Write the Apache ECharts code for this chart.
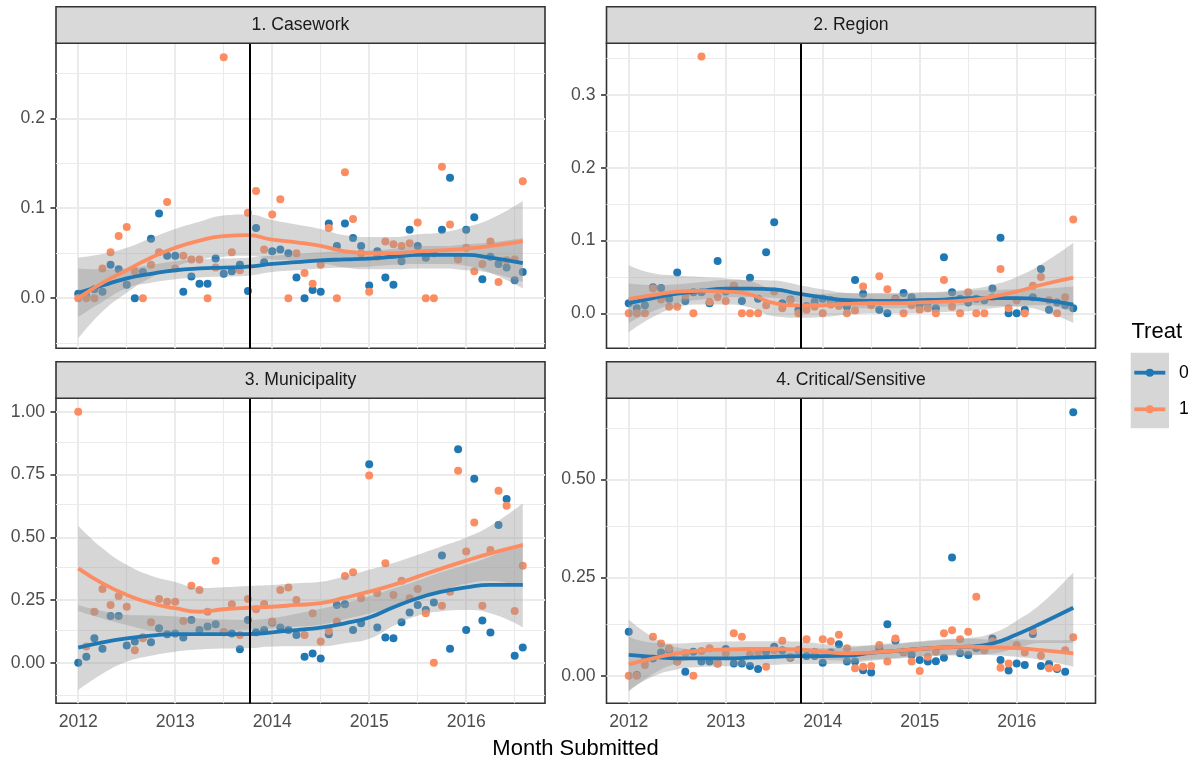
<!DOCTYPE html>
<html><head><meta charset="utf-8">
<script src="https://cdn.jsdelivr.net/npm/echarts@6/dist/echarts.min.js"></script>
<style>html,body{margin:0;padding:0;background:#fff}#c{width:1196px;height:763px}</style>
</head><body><div id="c"></div>
<script>
// ---------------- data ----------------
const months = ['2012-01','2012-02','2012-03','2012-04','2012-05','2012-06','2012-07','2012-08','2012-09','2012-10','2012-11','2012-12',
 '2013-01','2013-02','2013-03','2013-04','2013-05','2013-06','2013-07','2013-08','2013-09','2013-10','2013-11','2013-12',
 '2014-01','2014-02','2014-03','2014-04','2014-05','2014-06','2014-07','2014-08','2014-09','2014-10','2014-11','2014-12',
 '2015-01','2015-02','2015-03','2015-04','2015-05','2015-06','2015-07','2015-08','2015-09','2015-10','2015-11','2015-12',
 '2016-01','2016-02','2016-03','2016-04','2016-05','2016-06','2016-07','2016-08'];
const fitMonths = ['2012-01','2012-04','2012-07','2012-10','2013-01','2013-04','2013-07','2013-10','2014-01','2014-04',
 '2014-07','2014-10','2015-01','2015-04','2015-07','2015-10','2016-01','2016-04','2016-08'];
const panelTitles = ['1. Casework','2. Region','3. Municipality','4. Critical/Sensitive'];
const treatLevels = ['0','1'];
const interventionDate = 2013.77;

const xTicks = [2012,2013,2014,2015,2016];
const xLabels = ['2012','2013','2014','2015','2016'];
const xMinor = [2012.5,2013.5,2014.5,2015.5,2016.5];
const yTicks1 = [0,0.1,0.2], yLabels1 = ['0.0','0.1','0.2'], yMinor1 = [-0.05,0.05,0.15,0.25];
const yTicks2 = [0,0.1,0.2,0.3], yLabels2 = ['0.0','0.1','0.2','0.3'], yMinor2 = [0.05,0.15,0.25,0.35];
const yTicks3 = [0,0.25,0.5,0.75,1], yLabels3 = ['0.00','0.25','0.50','0.75','1.00'], yMinor3 = [-0.125,0.125,0.375,0.625,0.875];
const yTicks4 = [0,0.25,0.5], yLabels4 = ['0.00','0.25','0.50'], yMinor4 = [0.125,0.375,0.625];

// 1. Casework
const casework0 = [0.005,0.002,0.01,0.007,0.037,0.032,0.015,0,0.029,0.066,0.094,0.047,0.047,0.007,0.024,0.016,0.016,0.044,0.027,0.03,0.037,0.008,0.078,0.04,
 0.052,0.054,0.05,0.023,0,0.009,0.007,0.083,0.058,0.083,0.067,0.058,0.014,0.052,0.023,0.015,0.041,0.076,0.058,0.045,0.05,0.076,0.134,0.045,0.076,0.09,0.021,0.046,0.038,0.034,0.02,0.029];
const casework1 = [0,0,0,0.033,0.051,0.069,0.079,0.03,0,0.037,0.051,0.107,0.033,0.047,0.043,0.043,0,0.034,0.268,0.051,0.031,0.095,0.119,0.054,
 0.093,0.11,0,0.05,0.028,0.016,0.037,0.078,0,0.14,0.088,0.05,0.007,0.046,0.063,0.06,0.058,0.061,0.084,0,0,0.146,0.082,0.043,0.056,0.03,0.038,0.063,0.018,0.042,0.043,0.13];
const caseworkFit0 = [0.006,0.014,0.022,0.027,0.031,0.033,0.034,0.035,0.038,0.04,0.042,0.043,0.044,0.046,0.048,0.048,0.048,0.045,0.039];
const caseworkSe0  = [0.027,0.018,0.011,0.01,0.01,0.01,0.01,0.01,0.009,0.009,0.009,0.009,0.009,0.009,0.01,0.01,0.012,0.017,0.028];
const caseworkFit1 = [0.0,0.017,0.031,0.045,0.056,0.064,0.069,0.07,0.065,0.062,0.058,0.052,0.05,0.05,0.052,0.053,0.055,0.058,0.063];
const caseworkSe1  = [0.045,0.032,0.025,0.022,0.021,0.021,0.023,0.023,0.022,0.02,0.019,0.018,0.018,0.018,0.019,0.02,0.024,0.03,0.045];

// 2. Region
const region0 = [0.014,0.007,0.011,0.036,0.035,0.02,0.056,0.017,0.029,0.029,0.014,0.072,0.03,0.038,0.017,0.049,0.02,0.084,0.125,0.014,0.019,0.005,0.01,0.016,
 0.02,0.018,0.015,0.009,0.046,0.027,0.015,0.005,0,0.02,0.028,0.022,0.012,0.015,0.007,0.077,0.029,0.02,0.015,0.02,0.018,0.034,0.104,0,0,0.005,0.022,0.061,0.005,0.015,0.011,0.007];
const region1 = [0,0,0,0.034,0.019,0.009,0.009,0.025,0,0.353,0.016,0.022,0.017,0.038,0,0,0,0.011,0.03,0.007,0.018,0,0.005,0.009,
 0,0.012,0.01,0,0.004,0.037,0.011,0.051,0.033,0.019,0,0.011,0.005,0.007,0,0.046,0.009,0,0.029,0,0,0.022,0.061,0.007,0.018,0,0.038,0.05,0.018,0,0.022,0.129];
const regionFit0 = [0.014,0.021,0.027,0.031,0.034,0.034,0.033,0.027,0.022,0.018,0.017,0.017,0.018,0.019,0.021,0.021,0.021,0.019,0.012];
const regionSe0  = [0.027,0.018,0.013,0.012,0.012,0.012,0.012,0.012,0.011,0.01,0.01,0.01,0.01,0.01,0.01,0.011,0.012,0.015,0.025];
const regionFit1 = [0.02,0.025,0.03,0.031,0.03,0.026,0.014,0.011,0.011,0.013,0.014,0.014,0.015,0.016,0.018,0.023,0.03,0.039,0.049];
const regionSe1  = [0.046,0.03,0.022,0.019,0.018,0.018,0.018,0.017,0.016,0.015,0.014,0.014,0.014,0.014,0.015,0.016,0.02,0.028,0.048];

// 3. Municipality
const municipality0 = [0,0.024,0.097,0.055,0.186,0.186,0.068,0.084,0.1,0.081,0.137,0.113,0.116,0.1,0.17,0.13,0.144,0.153,0.121,0.116,0.053,0.17,0.121,0.13,
 0.16,0.14,0.13,0.11,0.024,0.037,0.017,0.113,0.23,0.233,0.13,0.157,0.791,0.14,0.1,0.097,0.161,0.2,0.23,0.21,0.24,0.427,0.055,0.851,0.13,0.733,0.168,0.12,0.549,0.653,0.028,0.06];
const municipality1 = [1.0,0.064,0.203,0.294,0.23,0.266,0.223,0.05,0.097,0.161,0.254,0.243,0.243,0.166,0.307,0.29,0.203,0.406,0.121,0.233,0.11,0.254,0.213,0.234,
 0.164,0.29,0.3,0.25,0.11,0.197,0.084,0.126,0.164,0.346,0.36,0.257,0.746,0.277,0.396,0.27,0.327,0.257,0.294,0.197,0,0.227,0.283,0.765,0.443,0.559,0.227,0.449,0.685,0.626,0.206,0.386];
const municipalityFit0 = [0.06,0.081,0.097,0.108,0.114,0.114,0.114,0.114,0.121,0.13,0.14,0.157,0.18,0.221,0.257,0.283,0.3,0.31,0.31];
const municipalitySe0  = [0.169,0.125,0.093,0.08,0.07,0.062,0.058,0.057,0.057,0.065,0.075,0.08,0.085,0.075,0.07,0.078,0.09,0.113,0.169];
const municipalityFit1 = [0.376,0.316,0.27,0.237,0.217,0.203,0.213,0.219,0.223,0.23,0.237,0.259,0.283,0.31,0.343,0.376,0.407,0.436,0.469];
const municipalitySe1  = [0.17,0.14,0.12,0.11,0.105,0.095,0.088,0.087,0.087,0.087,0.086,0.086,0.087,0.087,0.087,0.088,0.092,0.11,0.167];

// 4. Critical/Sensitive
const critical0 = [0.112,0.002,0.04,0.044,0.059,0.065,0.036,0.01,0.061,0.036,0.036,0.031,0.068,0.031,0.031,0.025,0.017,0.061,0.074,0.065,0.046,0.065,0.05,0.05,
 0.033,0.059,0.08,0.036,0.036,0.014,0.008,0.07,0.131,0.089,0.06,0.053,0.04,0.036,0.037,0.046,0.301,0.057,0.053,0.07,0.068,0.095,0.04,0.013,0.031,0.027,0.106,0.025,0.03,0.017,0.01,0.671];
const critical1 = [0,0,0.027,0.099,0.082,0.07,0.037,0.057,0,0.063,0.07,0.031,0.057,0.108,0.099,0.054,0.061,0.023,0.065,0.089,0.048,0.065,0.093,0.061,
 0.093,0.088,0.104,0.07,0.019,0.023,0.025,0.078,0.036,0.095,0.061,0.036,0.012,0.048,0.061,0.108,0.116,0.093,0.112,0.201,0.065,0.087,0.02,0.031,0.078,0.059,0.114,0.051,0.019,0.02,0.065,0.098];
const criticalFit0 = [0.053,0.048,0.044,0.044,0.044,0.046,0.048,0.05,0.05,0.051,0.058,0.063,0.068,0.072,0.074,0.082,0.105,0.133,0.173];
const criticalSe0  = [0.09,0.05,0.028,0.022,0.02,0.02,0.02,0.02,0.02,0.02,0.02,0.02,0.02,0.021,0.022,0.026,0.035,0.05,0.09];
const criticalFit1 = [0.029,0.044,0.057,0.064,0.067,0.068,0.068,0.067,0.061,0.057,0.059,0.063,0.068,0.072,0.074,0.072,0.07,0.065,0.057];
const criticalSe1  = [0.07,0.04,0.025,0.021,0.02,0.02,0.02,0.02,0.02,0.019,0.018,0.018,0.018,0.019,0.02,0.02,0.022,0.025,0.034];

// ---------------- chart ----------------
const FONT = '"Liberation Sans", Arial, Helvetica, sans-serif';
const BLUE = '#1f78b4', ORANGE = '#fc8d62';
const toYear = s => +s.slice(0,4) + (+s.slice(5,7) - 1) / 12;

const panels = [
  {title: panelTitles[0], t0: casework0, t1: casework1, f0: caseworkFit0, s0: caseworkSe0, f1: caseworkFit1, s1: caseworkSe1, ticks: yTicks1, labels: yLabels1, minor: yMinor1, min: -0.0558, max: 0.2834},
  {title: panelTitles[1], t0: region0, t1: region1, f0: regionFit0, s0: regionSe0, f1: regionFit1, s1: regionSe1, ticks: yTicks2, labels: yLabels2, minor: yMinor2, min: -0.048, max: 0.371},
  {title: panelTitles[2], t0: municipality0, t1: municipality1, f0: municipalityFit0, s0: municipalitySe0, f1: municipalityFit1, s1: municipalitySe1, ticks: yTicks3, labels: yLabels3, minor: yMinor3, min: -0.162, max: 1.054},
  {title: panelTitles[3], t0: critical0, t1: critical1, f0: criticalFit0, s0: criticalSe0, f1: criticalFit1, s1: criticalSe1, ticks: yTicks4, labels: yLabels4, minor: yMinor4, min: -0.0703, max: 0.7064}
];
const layout = [{left: 56, top: 43.3}, {left: 606.5, top: 43.3}, {left: 56, top: 398.3}, {left: 606.5, top: 398.3}];
const W = 489, H = 305, STRIP = 36.6;
const XMIN = 2011.7708, XMAX = 2016.8125;

const grids = [], xAxes = [], yAxes = [], series = [], graphics = [];
const fitX = fitMonths.map(toYear);
const gridMajor = {color: '#ebebeb', width: 2, type: 'solid'};
const gridMinor = {color: '#ebebeb', width: 1.1, type: 'solid'};

panels.forEach((p, i) => {
  const L = layout[i];
  const bottomRow = i >= 2;
  grids.push({left: L.left, top: L.top, width: W, height: H, show: true, backgroundColor: '#fff', borderColor: '#333', borderWidth: 1.6, z: 0});
  xAxes.push({gridIndex: i, type: 'value', min: XMIN, max: XMAX,
    splitLine: {show: false}, axisLine: {show: false},
    axisTick: {show: bottomRow, customValues: xTicks, length: 5.5, lineStyle: {color: '#333', width: 1.6}},
    axisLabel: {show: bottomRow, customValues: xTicks, formatter: v => xLabels[xTicks.indexOf(v)], color: '#4d4d4d', fontSize: 17.6, fontFamily: FONT, margin: 10}});
  yAxes.push({gridIndex: i, type: 'value', min: p.min, max: p.max,
    splitLine: {show: false}, axisLine: {show: false},
    axisTick: {show: true, customValues: p.ticks, length: 5.5, lineStyle: {color: '#333', width: 1.6}},
    axisLabel: {customValues: p.ticks, formatter: v => p.labels[p.ticks.indexOf(v)], color: '#4d4d4d', fontSize: 17.6, fontFamily: FONT, margin: 11}});

  // grid lines (through the axes' scales)
  const gl = [];
  xMinor.forEach(v => gl.push({xAxis: v, lineStyle: gridMinor}));
  p.minor.forEach(v => gl.push({yAxis: v, lineStyle: gridMinor}));
  xTicks.forEach(v => gl.push({xAxis: v, lineStyle: gridMajor}));
  p.ticks.forEach(v => gl.push({yAxis: v, lineStyle: gridMajor}));
  series.push({type: 'line', name: 'grid' + i, xAxisIndex: i, yAxisIndex: i, data: [], z: 1, silent: true, animation: false,
    markLine: {z: 1, silent: true, symbol: ['none', 'none'], label: {show: false}, animation: false, emphasis: {disabled: true}, data: gl}});

  // points
  [[p.t0, BLUE], [p.t1, ORANGE]].forEach(([vals, col], g) => {
    series.push({type: 'scatter', name: treatLevels[g], xAxisIndex: i, yAxisIndex: i, z: 2, symbolSize: 8, animation: false,
      itemStyle: {color: col, opacity: 1, borderWidth: 0}, data: months.map((m, k) => [toYear(m), vals[k]])});
  });

  // confidence bands (stack on the value dimension: column 0 is y, column 1 is x)
  [[p.f0, p.s0], [p.f1, p.s1]].forEach(([fit, se], g) => {
    const st = 'band' + i + '_' + g;
    series.push({type: 'line', xAxisIndex: i, yAxisIndex: i, stack: st, stackStrategy: 'all', smooth: 0.5, symbol: 'none', silent: true, z: 3, animation: false,
      encode: {x: 1, y: 0}, lineStyle: {opacity: 0}, data: fitX.map((x, k) => [fit[k] - se[k], x])});
    series.push({type: 'line', xAxisIndex: i, yAxisIndex: i, stack: st, stackStrategy: 'all', smooth: 0.5, symbol: 'none', silent: true, z: 3, animation: false,
      encode: {x: 1, y: 0}, lineStyle: {opacity: 0}, areaStyle: {color: 'rgba(153,153,153,0.4)', opacity: 1}, data: fitX.map((x, k) => [2 * se[k], x])});
  });
  // fitted lines
  [[p.f0, BLUE], [p.f1, ORANGE]].forEach(([fit, col]) => {
    series.push({type: 'line', xAxisIndex: i, yAxisIndex: i, smooth: 0.5, symbol: 'none', silent: true, z: 4, animation: false,
      lineStyle: {color: col, width: 3.8}, data: fitX.map((x, k) => [x, fit[k]])});
  });
  // intervention line
  series.push({type: 'line', xAxisIndex: i, yAxisIndex: i, data: [], z: 6, silent: true, animation: false,
    markLine: {z: 6, silent: true, symbol: ['none', 'none'], label: {show: false}, animation: false, emphasis: {disabled: true},
      data: [{xAxis: interventionDate, lineStyle: {color: '#000', width: 2, type: 'solid'}}]}});

  // strip
  graphics.push({type: 'rect', shape: {x: L.left, y: L.top - STRIP, width: W, height: STRIP}, style: {fill: '#d9d9d9', stroke: '#333', lineWidth: 1.6}, z: 10, silent: true});
  graphics.push({type: 'text', x: L.left + W / 2, y: L.top - STRIP / 2, style: {text: p.title, font: '17.6px ' + FONT, fill: '#1a1a1a', align: 'center', verticalAlign: 'middle'}, z: 11, silent: true});
});

// axis title
graphics.push({type: 'text', x: 575.5, y: 749, style: {text: 'Month Submitted', font: '22px ' + FONT, fill: '#000', align: 'center', verticalAlign: 'middle'}, z: 11});
// legend
graphics.push({type: 'text', x: 1131.5, y: 331.5, style: {text: 'Treat', font: '22px ' + FONT, fill: '#000', align: 'left', verticalAlign: 'middle'}, z: 11});
graphics.push({type: 'rect', shape: {x: 1130.7, y: 352.7, width: 38.3, height: 75.6}, style: {fill: '#d6d6d6'}, z: 10});
[[BLUE, 372.7], [ORANGE, 409.3]].forEach(([col, y], g) => {
  graphics.push({type: 'line', shape: {x1: 1134.3, y1: y, x2: 1165.3, y2: y}, style: {stroke: col, lineWidth: 3.8}, z: 11});
  graphics.push({type: 'circle', shape: {cx: 1149.8, cy: y, r: 4}, style: {fill: col}, z: 12});
  graphics.push({type: 'text', x: 1179, y: y, style: {text: treatLevels[g], font: '17.6px ' + FONT, fill: '#000', align: 'left', verticalAlign: 'middle'}, z: 11});
});

const chart = echarts.init(document.getElementById('c'), null, {renderer: 'canvas'});
chart.setOption({animation: false, backgroundColor: '#fff', grid: grids, xAxis: xAxes, yAxis: yAxes, series: series, graphic: graphics});
</script>
</body></html>
